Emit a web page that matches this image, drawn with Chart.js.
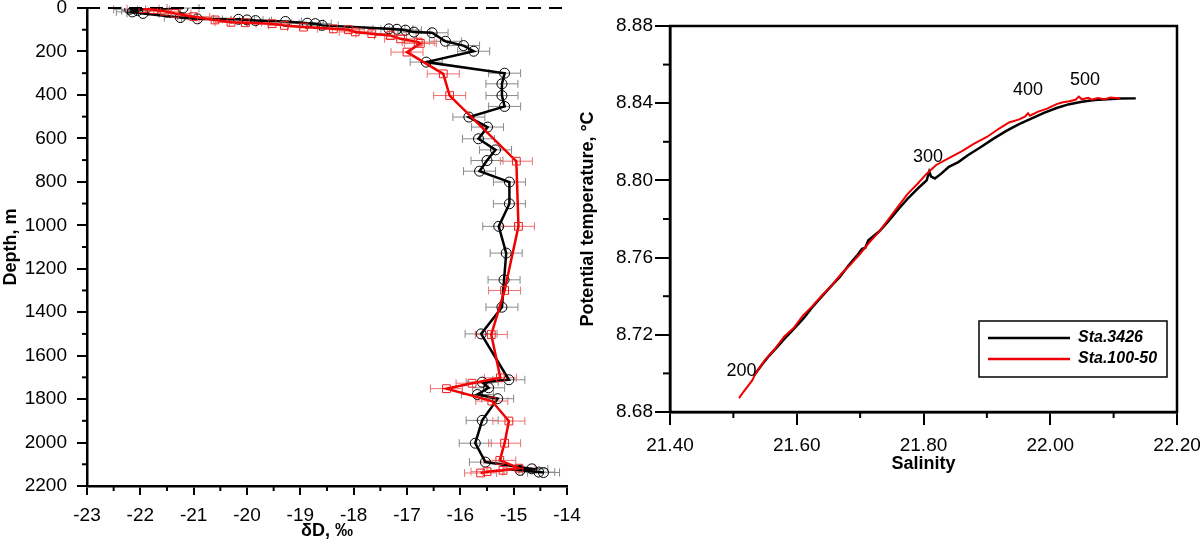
<!DOCTYPE html>
<html>
<head>
<meta charset="utf-8">
<script src="https://cdn.jsdelivr.net/npm/chart.js@4/dist/chart.umd.min.js"></script>
<style>
  html, body { margin: 0; padding: 0; background: #fff; }
  body { width: 1200px; height: 548px; position: relative; overflow: hidden; }
  canvas { position: absolute; top: 0; }
  #depthChart { left: 0; }
  #tsChart { left: 540px; }
</style>
</head>
<body>
<canvas id="depthChart" width="600" height="548"></canvas>
<canvas id="tsChart" width="660" height="548"></canvas>
<script>
// left panel: dD profile
const depthTicks = [0, 200, 400, 600, 800, 1000, 1200, 1400, 1600, 1800, 2000, 2200];
const dDTicks = [-23, -22, -21, -20, -19, -18, -17, -16, -15, -14];

const depthBlack = [0, 6, 12, 18, 25, 44, 50, 52, 55, 58, 62, 70, 72, 80, 96, 98, 102, 111, 114, 153, 173, 199, 249, 300, 349, 403, 453, 502, 548, 602, 653, 702, 751, 801, 901, 1005, 1128, 1251, 1377, 1500, 1711, 1722, 1748, 1779, 1798, 1898, 2003, 2090, 2121, 2128, 2136, 2138];
const dDBlack = [-21.2, -22.2, -22.05, -22.15, -21.95, -21.25, -20.93, -20.16, -20.0, -19.84, -19.28, -18.87, -18.72, -18.59, -17.34, -17.19, -17.03, -16.87, -16.53, -16.28, -15.94, -15.75, -16.64, -15.17, -15.22, -15.22, -15.17, -15.84, -15.49, -15.66, -15.34, -15.5, -15.64, -15.08, -15.08, -15.28, -15.14, -15.18, -15.22, -15.61, -15.09, -15.59, -15.47, -15.68, -15.30, -15.59, -15.72, -15.53, -14.66, -14.88, -14.53, -14.44];

const depthRed = [3, 8, 15, 25, 40, 55, 66, 68, 72, 80, 88, 96, 100, 110, 118, 127, 142, 157, 163, 203, 303, 403, 705, 1005, 1300, 1503, 1702, 1727, 1752, 1809, 1901, 2003, 2082, 2118, 2128, 2134, 2140];
const dDRed = [-21.95, -21.75, -21.55, -21.35, -21.0, -20.6, -20.3, -20.03, -19.53, -19.3, -18.94, -18.38, -18.1, -17.97, -17.66, -17.31, -17.12, -16.79, -16.75, -17.0, -16.32, -16.2, -14.95, -14.91, -15.17, -15.42, -15.25, -15.78, -16.26, -15.41, -15.09, -15.17, -15.26, -14.9, -15.2, -15.5, -15.62];

const dDErrBlack = 0.3;
const dDErrRed = 0.3;

// right panel: T-S diagram
const salTicks = [21.4, 21.6, 21.8, 22.0, 22.2];
const tempTicks = [8.68, 8.72, 8.76, 8.80, 8.84, 8.88];
const stationNames = ['Sta.3426', 'Sta.100-50'];

const salBlack = [21.532, 21.545, 21.556, 21.570, 21.585, 21.598, 21.612, 21.625, 21.640, 21.655, 21.668, 21.682, 21.695, 21.703, 21.708, 21.713, 21.730, 21.745, 21.760, 21.775, 21.790, 21.800, 21.805, 21.809, 21.812, 21.818, 21.828, 21.840, 21.855, 21.870, 21.890, 21.910, 21.930, 21.950, 21.970, 21.990, 22.010, 22.030, 22.050, 22.070, 22.090, 22.110, 22.135];
const tempBlack = [8.6987, 8.7045, 8.7090, 8.7140, 8.7195, 8.7240, 8.7290, 8.7345, 8.7400, 8.7455, 8.7500, 8.7560, 8.7610, 8.7645, 8.7650, 8.7690, 8.7735, 8.7790, 8.7850, 8.7905, 8.7955, 8.7985, 8.8000, 8.8045, 8.8020, 8.8010, 8.8035, 8.8070, 8.8095, 8.8130, 8.8172, 8.8215, 8.8255, 8.8290, 8.8320, 8.8350, 8.8375, 8.8395, 8.8408, 8.8416, 8.8421, 8.8424, 8.8425];

const salRed = [21.509, 21.515, 21.522, 21.530, 21.535, 21.550, 21.565, 21.580, 21.595, 21.610, 21.625, 21.640, 21.655, 21.670, 21.685, 21.700, 21.715, 21.730, 21.745, 21.760, 21.775, 21.790, 21.805, 21.820, 21.840, 21.860, 21.880, 21.900, 21.920, 21.935, 21.950, 21.960, 21.965, 21.968, 21.980, 21.995, 22.010, 22.020, 22.030, 22.040, 22.045, 22.050, 22.060, 22.065, 22.075, 22.085, 22.095, 22.110];
const tempRed = [8.6872, 8.6900, 8.6930, 8.6965, 8.7000, 8.7070, 8.7125, 8.7190, 8.7235, 8.7300, 8.7350, 8.7405, 8.7455, 8.7515, 8.7565, 8.7620, 8.7680, 8.7735, 8.7800, 8.7865, 8.7930, 8.7980, 8.8035, 8.8080, 8.8115, 8.8150, 8.8190, 8.8225, 8.8270, 8.8300, 8.8315, 8.8330, 8.8348, 8.8335, 8.8355, 8.8372, 8.8395, 8.8405, 8.8410, 8.8418, 8.8434, 8.8420, 8.8428, 8.8418, 8.8427, 8.8420, 8.8429, 8.8424];

// depth labels along the T-S curve
const depthMarks = ['200', '300', '400', '500'];
const depthMarkSal = [21.513, 21.807, 21.965, 22.055];
const depthMarkTemp = [8.701, 8.812, 8.847, 8.852];

Chart.defaults.font.family = "'Liberation Sans', Arial, sans-serif";
Chart.defaults.color = '#000';
Chart.defaults.animation = false;

function pairs(xs, ys) {
  return xs.map((v, i) => ({ x: v, y: ys[i] }));
}

function setTicks(list) {
  return scale => { scale.ticks = list.map(v => ({ value: v })); };
}

// small helper to pin the axis box sizes so the plot lands where the figure has it
function fixBox(size) {
  return scale => {
    if (scale.isHorizontal()) scale.height = size; else scale.width = size;
    scale.paddingTop = 0; scale.paddingBottom = 0;
    scale.paddingLeft = 0; scale.paddingRight = 0;
  };
}

const errorBars = {
  id: 'errorBars',
  beforeDatasetsDraw(chart) {
    const { ctx, scales: { x, y } } = chart;
    chart.data.datasets.forEach(ds => {
      if (!ds.xErr) return;
      ctx.save();
      ctx.strokeStyle = ds.errColor;
      ctx.lineWidth = 1;
      ds.data.forEach(p => {
        const py = y.getPixelForValue(p.y);
        const x0 = x.getPixelForValue(p.x - ds.xErr);
        const x1 = x.getPixelForValue(p.x + ds.xErr);
        ctx.beginPath();
        ctx.moveTo(x0, py); ctx.lineTo(x1, py);
        ctx.moveTo(x0, py - 4); ctx.lineTo(x0, py + 4);
        ctx.moveTo(x1, py - 4); ctx.lineTo(x1, py + 4);
        ctx.stroke();
      });
      ctx.restore();
    });
  }
};

// minor ticks halfway between the major ones
const minorTicks = {
  id: 'minorTicks',
  afterDraw(chart, args, opts) {
    const { ctx, chartArea } = chart;
    ctx.save();
    ctx.strokeStyle = '#000';
    ctx.lineWidth = 2;
    ['x', 'y'].forEach(id => {
      const scale = chart.scales[id];
      const t = scale.ticks;
      for (let i = 0; i < t.length - 1; i++) {
        const p = scale.getPixelForValue((t[i].value + t[i + 1].value) / 2);
        ctx.beginPath();
        if (id === 'x') {
          ctx.moveTo(p, chartArea.bottom); ctx.lineTo(p, chartArea.bottom + opts.xLen);
        } else {
          ctx.moveTo(chartArea.left, p); ctx.lineTo(chartArea.left - opts.yLen, p);
        }
        ctx.stroke();
      }
    });
    ctx.restore();
  }
};

const surfaceLine = {
  id: 'surfaceLine',
  beforeDatasetsDraw(chart) {
    const { ctx, chartArea, scales: { y } } = chart;
    const py = y.getPixelForValue(0);
    ctx.save();
    ctx.strokeStyle = '#000';
    ctx.lineWidth = 2;
    ctx.setLineDash([13, 8]);
    ctx.beginPath();
    ctx.moveTo(chartArea.left, py);
    ctx.lineTo(chartArea.right, py);
    ctx.stroke();
    ctx.restore();
  }
};

const frameBox = {
  id: 'frameBox',
  afterDraw(chart) {
    const { ctx, chartArea: a } = chart;
    ctx.save();
    ctx.strokeStyle = '#000';
    ctx.lineWidth = 2.5;
    ctx.strokeRect(a.left, a.top, a.right - a.left, a.bottom - a.top);
    ctx.restore();
  }
};

const depthLabels = {
  id: 'depthLabels',
  afterDatasetsDraw(chart) {
    const { ctx, scales: { x, y } } = chart;
    ctx.save();
    ctx.font = "18px 'Liberation Sans', Arial, sans-serif";
    ctx.fillStyle = '#000';
    ctx.textAlign = 'center';
    ctx.textBaseline = 'middle';
    depthMarks.forEach((t, i) => {
      ctx.fillText(t, x.getPixelForValue(depthMarkSal[i]), y.getPixelForValue(depthMarkTemp[i]));
    });
    ctx.restore();
  }
};

const boxLegend = {
  id: 'boxLegend',
  afterDraw(chart) {
    const { ctx, chartArea: a } = chart;
    const w = 188, h = 56;
    const bx = a.right - 10 - w, by = a.bottom - 35 - h;
    ctx.save();
    ctx.fillStyle = '#fff';
    ctx.fillRect(bx, by, w, h);
    ctx.strokeStyle = '#000';
    ctx.lineWidth = 1.5;
    ctx.strokeRect(bx, by, w, h);
    ctx.font = "italic bold 16px 'Liberation Sans', Arial, sans-serif";
    ctx.textBaseline = 'middle';
    chart.data.datasets.forEach((ds, i) => {
      const ly = by + 17 + i * 21;
      ctx.strokeStyle = ds.borderColor;
      ctx.lineWidth = 2.5;
      ctx.beginPath();
      ctx.moveTo(bx + 9, ly);
      ctx.lineTo(bx + 91, ly);
      ctx.stroke();
      ctx.fillStyle = '#000';
      ctx.fillText(ds.label, bx + 99, ly);
    });
    ctx.restore();
  }
};

function axisFont(size, bold) {
  return { size: size, weight: bold ? 'bold' : 'normal' };
}

new Chart(document.getElementById('depthChart'), {
  type: 'scatter',
  data: {
    datasets: [{
      label: 'black',
      data: pairs(dDBlack, depthBlack),
      showLine: true,
      borderColor: '#000',
      borderWidth: 2.5,
      pointStyle: 'circle',
      pointRadius: 5,
      pointBorderWidth: 1,
      pointBorderColor: '#000',
      pointBackgroundColor: 'rgba(0,0,0,0)',
      xErr: dDErrBlack,
      errColor: '#8a8a8a',
      order: 1
    }, {
      label: 'red',
      data: pairs(dDRed, depthRed),
      showLine: true,
      borderColor: '#f00000',
      borderWidth: 2.5,
      pointStyle: 'rect',
      pointRadius: 5.5,
      pointBorderWidth: 1,
      pointBorderColor: '#f02020',
      pointBackgroundColor: 'rgba(0,0,0,0)',
      xErr: dDErrRed,
      errColor: '#f07070',
      order: 0
    }]
  },
  options: {
    responsive: false,
    layout: { padding: { left: 0, right: 33, top: 8, bottom: 0 } },
    plugins: {
      legend: { display: false },
      tooltip: { enabled: false },
      minorTicks: { xLen: 5, yLen: 5 }
    },
    scales: {
      x: {
        type: 'linear',
        min: -23, max: -14,
        afterBuildTicks: setTicks(dDTicks),
        afterFit: fixBox(62),
        grid: { drawOnChartArea: false, color: '#000', lineWidth: 2, tickLength: 9 },
        border: { color: '#000', width: 2.5 },
        ticks: { font: axisFont(19), padding: 9, maxRotation: 0, autoSkip: false, callback: v => String(v) },
        title: { display: true, text: 'δD, ‰', font: axisFont(18, true), padding: { top: 0, bottom: 6 } }
      },
      y: {
        type: 'linear',
        reverse: true,
        min: 0, max: 2200,
        afterBuildTicks: setTicks(depthTicks),
        afterFit: fixBox(87),
        grid: { drawOnChartArea: false, color: '#000', lineWidth: 2, tickLength: 10 },
        border: { color: '#000', width: 2.5 },
        ticks: { font: axisFont(19), padding: 10, autoSkip: false, callback: v => String(v) },
        title: { display: true, text: 'Depth, m', font: axisFont(18, true), padding: { top: 0, bottom: 0 } }
      }
    }
  },
  plugins: [errorBars, minorTicks, surfaceLine]
});

new Chart(document.getElementById('tsChart'), {
  type: 'scatter',
  data: {
    datasets: [{
      label: stationNames[0],
      data: pairs(salBlack, tempBlack),
      showLine: true,
      borderColor: '#000',
      borderWidth: 2.5,
      pointRadius: 0,
      order: 1
    }, {
      label: stationNames[1],
      data: pairs(salRed, tempRed),
      showLine: true,
      borderColor: '#f00000',
      borderWidth: 2,
      pointRadius: 0,
      order: 0
    }]
  },
  options: {
    responsive: false,
    layout: { padding: { left: 37, right: 23, top: 26, bottom: 66 } },
    plugins: {
      legend: { display: false },
      tooltip: { enabled: false },
      minorTicks: { xLen: 6, yLen: 7 }
    },
    scales: {
      x: {
        type: 'linear',
        min: 21.4, max: 22.2,
        afterBuildTicks: setTicks(salTicks),
        afterFit: fixBox(70),
        grid: { drawOnChartArea: false, color: '#000', lineWidth: 2, tickLength: 13 },
        border: { color: '#000', width: 2.5 },
        ticks: { font: axisFont(19), padding: 9, maxRotation: 0, autoSkip: false, callback: v => v.toFixed(2) },
        title: { display: true, text: 'Salinity', font: axisFont(18, true), padding: { top: 0, bottom: 7 } }
      },
      y: {
        type: 'linear',
        min: 8.68, max: 8.88,
        afterBuildTicks: setTicks(tempTicks),
        afterFit: fixBox(93),
        grid: { drawOnChartArea: false, color: '#000', lineWidth: 2, tickLength: 15 },
        border: { color: '#000', width: 2.5 },
        ticks: { font: axisFont(19), padding: 2, autoSkip: false, callback: v => v.toFixed(2) },
        title: { display: true, text: 'Potential temperature, °C', font: axisFont(18, true), padding: { top: 0, bottom: 0 } }
      }
    }
  },
  plugins: [minorTicks, frameBox, depthLabels, boxLegend]
});
</script>
</body>
</html>
